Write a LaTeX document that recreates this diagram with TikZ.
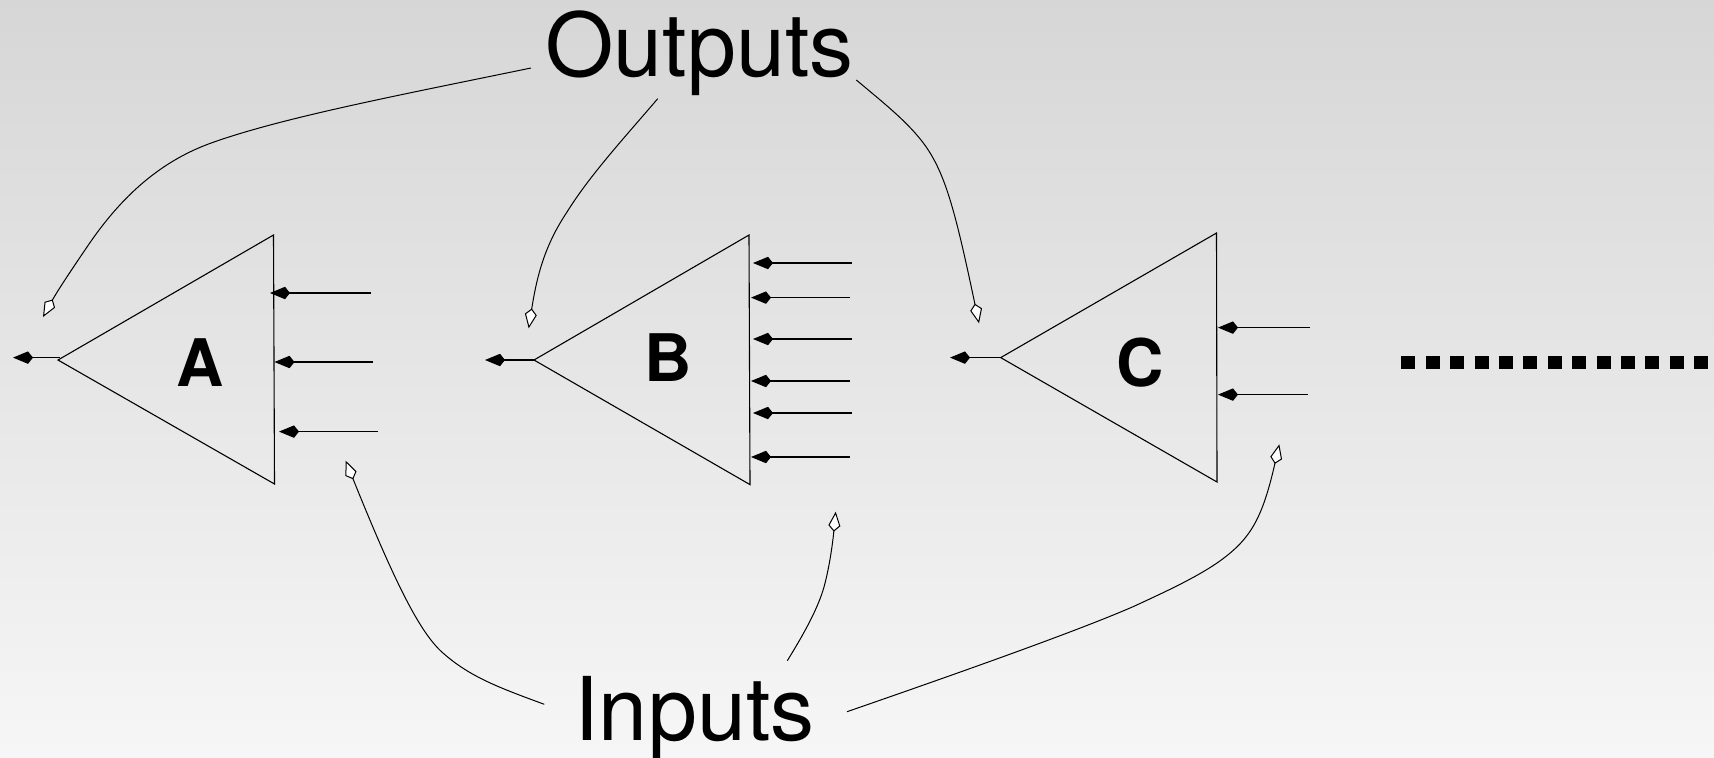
\documentclass[tikz,border=0pt]{standalone}
\usepackage{fontspec}
\setmainfont{TeX Gyre Heros}
\usetikzlibrary{arrows.meta}
\tikzset{
  px/.style={x=0.5pt,y=-0.5pt},
  outline/.style={draw=black,line width=0.55pt,line join=miter},
  wire/.style={draw=black,line width=0.55pt,-{Kite[length=10pt,width=6.2pt,inset=2.5pt,fill=black]}},
  pointer/.style={draw=black,line width=0.5pt,-{Kite[length=10pt,width=6pt,inset=3pt,fill=white]}},
  bigtext/.style={font=\fontsize{44}{50}\selectfont,inner sep=0pt,anchor=base west,text=black},
  gate/.style={font=\fontsize{32.8}{38}\bfseries\selectfont,inner sep=0pt,anchor=base west,text=black},
  more/.style={draw=black,line width=6.5pt,dash pattern=on 7pt off 5.2pt}
}
\begin{document}
\begin{tikzpicture}[px]
\useasboundingbox (0,0) rectangle (1714,757);
\shade[top color=black!16,bottom color=black!3.5] (0,0) rectangle (1714,757);

% labels
\node[bigtext] (outputs) at (545,76) {Outputs};
\node[bigtext] (inputs) at (574,740.7) {Inputs};
\node[gate] (labelA) at (176,386.5) {A};
\node[gate] (labelB) at (644,381) {B};
\node[gate] (labelC) at (1116,386) {C};

% gate A
\coordinate (Aapex) at (58,360);
\coordinate (Atop) at (273.5,235);
\coordinate (Abot) at (274.5,484);
\draw[outline] (Aapex) -- (Abot) -- (Atop) -- cycle;
\coordinate (Aos) at (60,357.6); \coordinate (Aot) at (13,357.6);
\draw[wire] (Aos) -- (Aot);
\coordinate (Ai1s) at (371,293); \coordinate (Ai1t) at (270,293);
\coordinate (Ai2s) at (373,362); \coordinate (Ai2t) at (274.5,362);
\coordinate (Ai3s) at (378,431.6); \coordinate (Ai3t) at (279,431.6);
\draw[wire] (Ai1s) -- (Ai1t);
\draw[wire] (Ai2s) -- (Ai2t);
\draw[wire] (Ai3s) -- (Ai3t);

% gate B
\coordinate (Bapex) at (534,360);
\coordinate (Btop) at (749,235);
\coordinate (Bbot) at (750,484.6);
\draw[outline] (Bapex) -- (Bbot) -- (Btop) -- cycle;
\coordinate (Bos) at (534,360); \coordinate (Bot) at (485,360);
\draw[wire] (Bos) -- (Bot);
\coordinate (Bi1s) at (852,263); \coordinate (Bi1t) at (753,263);
\coordinate (Bi2s) at (850,297.6); \coordinate (Bi2t) at (751,297.6);
\coordinate (Bi3s) at (852,339); \coordinate (Bi3t) at (753,339);
\coordinate (Bi4s) at (850,381); \coordinate (Bi4t) at (751,381);
\coordinate (Bi5s) at (852,413); \coordinate (Bi5t) at (753,413);
\coordinate (Bi6s) at (850,457); \coordinate (Bi6t) at (751,457);
\draw[wire] (Bi1s) -- (Bi1t);
\draw[wire] (Bi2s) -- (Bi2t);
\draw[wire] (Bi3s) -- (Bi3t);
\draw[wire] (Bi4s) -- (Bi4t);
\draw[wire] (Bi5s) -- (Bi5t);
\draw[wire] (Bi6s) -- (Bi6t);

% gate C
\coordinate (Capex) at (1000.7,357.6);
\coordinate (Ctop) at (1216.5,233);
\coordinate (Cbot) at (1217,482);
\draw[outline] (Capex) -- (Cbot) -- (Ctop) -- cycle;
\coordinate (Cos) at (1000.7,357.6); \coordinate (Cot) at (950,357.6);
\draw[wire] (Cos) -- (Cot);
\coordinate (Ci1s) at (1310,327.6); \coordinate (Ci1t) at (1218,327.6);
\coordinate (Ci2s) at (1308,394.6); \coordinate (Ci2t) at (1218,394.6);
\draw[wire] (Ci1s) -- (Ci1t);
\draw[wire] (Ci2s) -- (Ci2t);

% dotted continuation
\coordinate (moreS) at (1401.3,362.5);
\coordinate (moreE) at (1708.3,362.5);
\draw[more] (moreS) -- (moreE);

% output pointers
\coordinate (o1s) at (531,68);
\coordinate (o1t) at (43,317);
\draw[pointer] (o1s) .. controls (400,95) and (285,117) .. (214,142)
  .. controls (162,160) and (122,195) .. (87,247)
  .. controls (72,269) and (58,290) .. (o1t);
\coordinate (o2s) at (657.7,98.7);
\coordinate (o2t) at (528.7,328.3);
\draw[pointer] (o2s) .. controls (625,137) and (590,175) .. (567,212)
  .. controls (545,245) and (537,275) .. (o2t);
\coordinate (o3s) at (856.3,80);
\coordinate (o3t) at (979,323.3);
\draw[pointer] (o3s) .. controls (885,104) and (905,120) .. (921,140)
  .. controls (945,170) and (955,210) .. (o3t);

% input pointers
\coordinate (i1s) at (544.3,704.3);
\coordinate (i1t) at (345.7,460.7);
\draw[pointer] (i1s) .. controls (500,688) and (470,677) .. (443,653)
  .. controls (420,633) and (395,583) .. (i1t);
\coordinate (i2s) at (787.3,660.7);
\coordinate (i2t) at (835.7,511.7);
\draw[pointer] (i2s) .. controls (805,632) and (818,608) .. (824,587)
  .. controls (830,565) and (833,540) .. (i2t);
\coordinate (i3s) at (847,711.7);
\coordinate (i3t) at (1279.3,444.3);
\draw[pointer] (i3s) .. controls (950,676) and (1075,632) .. (1133,606.7)
  .. controls (1165,592) and (1195,578) .. (1217,563)
  .. controls (1250,540) and (1262,520) .. (i3t);
\end{tikzpicture}
\end{document}
